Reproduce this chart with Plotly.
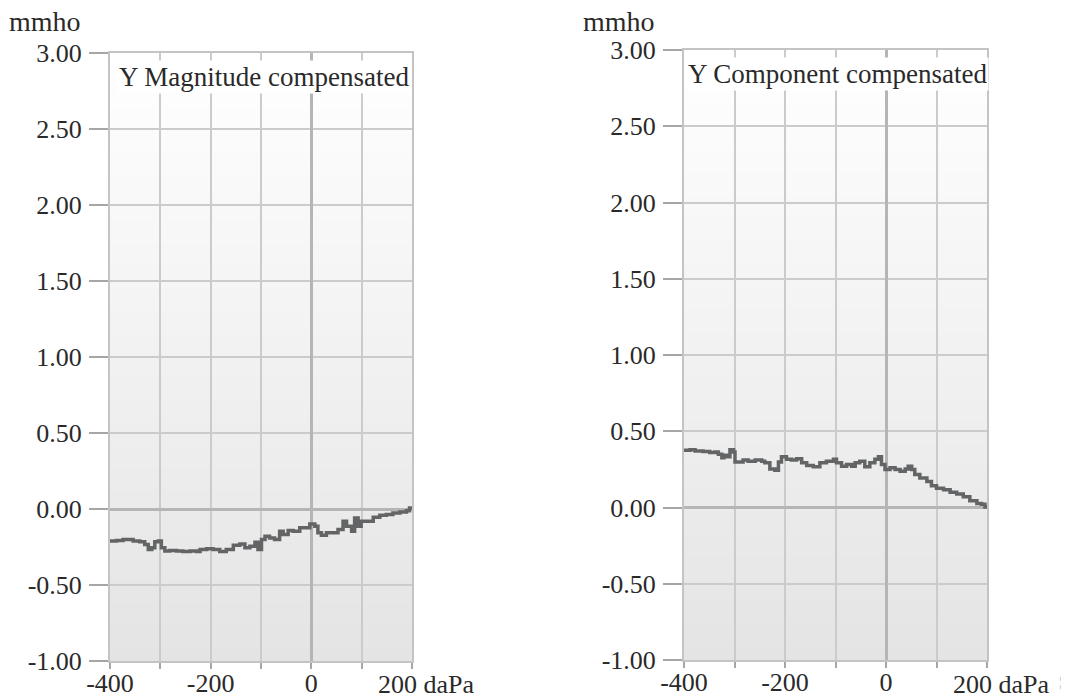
import base64
import struct
import zlib

import plotly.graph_objects as go

# Pressure sweep (daPa) and admittance readings (mmho)
pressure_mag = [-400, -387, -374, -354, -341, -331, -324, -317, -311, -304, -298, -291,
                -281, -268, -255, -241, -228, -221, -208, -195, -182, -169, -155, -142,
                -132, -122, -112, -106, -99, -92, -83, -73, -63, -56, -46, -36, -23, -13,
                -3, 7, 13, 20, 30, 43, 53, 63, 70, 80, 86, 93, 99, 109, 123, 136, 149,
                162, 176, 189, 195, 200]
y_magnitude = [-0.21, -0.207, -0.20, -0.21, -0.216, -0.233, -0.266, -0.255, -0.216, -0.21,
               -0.255, -0.277, -0.273, -0.277, -0.28, -0.277, -0.28, -0.266, -0.262, -0.266,
               -0.28, -0.266, -0.238, -0.23, -0.255, -0.245, -0.218, -0.266, -0.20, -0.179,
               -0.19, -0.20, -0.146, -0.168, -0.142, -0.146, -0.124, -0.124, -0.098, -0.114,
               -0.157, -0.172, -0.157, -0.157, -0.135, -0.081, -0.114, -0.146, -0.059, -0.114,
               -0.081, -0.081, -0.055, -0.041, -0.037, -0.026, -0.02, -0.011, 0.007, 0.0]

pressure_comp = [-400, -388, -378, -362, -349, -339, -332, -325, -321, -316, -309, -302,
                 -299, -292, -283, -273, -259, -246, -240, -230, -220, -213, -207, -197,
                 -187, -177, -167, -157, -144, -131, -118, -104, -98, -88, -78, -68, -61,
                 -52, -42, -32, -22, -15, -9, -2, 8, 18, 28, 38, 44, 51, 57, 67, 81, 90,
                 100, 114, 127, 140, 153, 166, 180, 189, 196, 200]
y_component = [0.376, 0.378, 0.371, 0.367, 0.36, 0.364, 0.349, 0.327, 0.342, 0.333, 0.378,
               0.364, 0.298, 0.298, 0.311, 0.304, 0.311, 0.304, 0.293, 0.253, 0.244, 0.298,
               0.333, 0.316, 0.311, 0.32, 0.293, 0.276, 0.267, 0.293, 0.304, 0.316, 0.293,
               0.271, 0.282, 0.271, 0.293, 0.304, 0.267, 0.293, 0.316, 0.333, 0.282, 0.249,
               0.26, 0.249, 0.238, 0.253, 0.271, 0.249, 0.216, 0.193, 0.171, 0.142, 0.127,
               0.116, 0.10, 0.089, 0.071, 0.044, 0.027, 0.022, 0.004, 0.0]

panel_titles = ["Y Magnitude compensated", "Y Component compensated"]
y_ticks = [-1.0, -0.5, 0.0, 0.5, 1.0, 1.5, 2.0, 2.5, 3.0]
y_ticklabels = ["-1.00", "-0.50", "0.00", "0.50", "1.00", "1.50", "2.00", "2.50", "3.00"]
x_ticks = [-400, -300, -200, -100, 0, 100, 200]
x_ticklabels = ["-400", "", "-200", "", "0", "", ""]
y_unit = "mmho"
x_end_label = "200 daPa"

W, H = 1070, 698
FONT = "Liberation Serif"
TEXT = "#2a2a2a"


def gradient_png(top, bottom, n=256):
    """Vertical grey ramp as a tiny PNG data URI."""
    rows = b"".join(
        b"\x00" + bytes([round(top + (bottom - top) * i / (n - 1))] * 4) for i in range(n)
    )

    def chunk(tag, data):
        c = struct.pack(">I", len(data)) + tag + data
        return c + struct.pack(">I", zlib.crc32(tag + data) & 0xFFFFFFFF)

    ihdr = struct.pack(">IIBBBBB", 4, n, 8, 0, 0, 0, 0)
    png = (b"\x89PNG\r\n\x1a\n" + chunk(b"IHDR", ihdr)
           + chunk(b"IDAT", zlib.compress(rows)) + chunk(b"IEND", b""))
    return "data:image/png;base64," + base64.b64encode(png).decode()


bg = gradient_png(255, 228)

# panel pixel boxes: (left, right, top, bottom)
panels = [(110, 412, 53, 661), (684, 987, 50, 660)]

fig = go.Figure()

series = [(pressure_mag, y_magnitude), (pressure_comp, y_component)]
for i, (xs, ys) in enumerate(series):
    sfx = "" if i == 0 else "2"
    fig.add_trace(go.Scatter(
        x=xs, y=ys, mode="lines", line=dict(color="#636466", width=3.5, shape="hv"),
        xaxis="x" + sfx, yaxis="y" + sfx, showlegend=False, hoverinfo="skip",
    ))

layout = dict(
    width=W, height=H, margin=dict(l=0, r=0, t=0, b=0, pad=0, autoexpand=False),
    paper_bgcolor="white", plot_bgcolor="white",
    font=dict(family=FONT, size=26, color=TEXT),
    annotations=[], images=[],
)

for i, (l, r, t, b) in enumerate(panels):
    sfx = "" if i == 0 else "2"
    common_axis = dict(
        showgrid=True, gridcolor="#cbcbcb", gridwidth=2,
        zeroline=True, zerolinecolor="#b5b5b5", zerolinewidth=3,
        showline=True, linecolor="#c4c4c4", linewidth=2, mirror=True,
        ticks="outside", tickcolor="#a6a6a6", tickwidth=2, automargin=False,
        tickfont=dict(family=FONT, size=26, color=TEXT), fixedrange=True,
    )
    layout["xaxis" + sfx] = dict(
        common_axis, domain=[l / W, r / W], range=[-400, 200], anchor="y" + sfx,
        tickvals=x_ticks, ticktext=x_ticklabels, ticklen=6, ticklabelstandoff=-8,
    )
    layout["yaxis" + sfx] = dict(
        common_axis, domain=[1 - b / H, 1 - t / H], range=[-1, 3], anchor="x" + sfx,
        tickvals=y_ticks, ticktext=y_ticklabels, ticklen=19, ticklabelstandoff=2,
    )
    layout["images"].append(dict(
        source=bg, xref="x" + sfx, yref="y" + sfx, x=-400, y=3, sizex=600, sizey=4,
        sizing="stretch", layer="below",
    ))
    # panel heading in a white box
    layout["annotations"].append(dict(
        text=panel_titles[i], xref="paper", yref="paper",
        x=(l + (7 if i == 0 else 2)) / W, y=1 - (t + 7) / H,
        xanchor="left", yanchor="top", showarrow=False,
        bgcolor="white", borderpad=1, font=dict(size=27),
    ))
    # unit label above the y axis
    layout["annotations"].append(dict(
        text=y_unit, xref="paper", yref="paper", x=(l - 103) / W, y=1 - 21 / H,
        xanchor="left", yanchor="middle", showarrow=False, font=dict(size=28),
    ))
    # last x tick with the pressure unit
    layout["annotations"].append(dict(
        text=x_end_label, xref="x" + sfx, yref="paper", x=200, y=1 - 684 / H,
        xanchor="left", xshift=-36, yanchor="middle", showarrow=False,
        font=dict(size=26),
    ))

layout["annotations"].append(dict(
    text="¦", xref="paper", yref="paper", x=1060 / W, y=1 - 681 / H,
    xanchor="center", yanchor="middle", showarrow=False,
    font=dict(size=13, color="#b0b0b0"),
))

fig.update_layout(**layout)
fig.write_html("out.html")
